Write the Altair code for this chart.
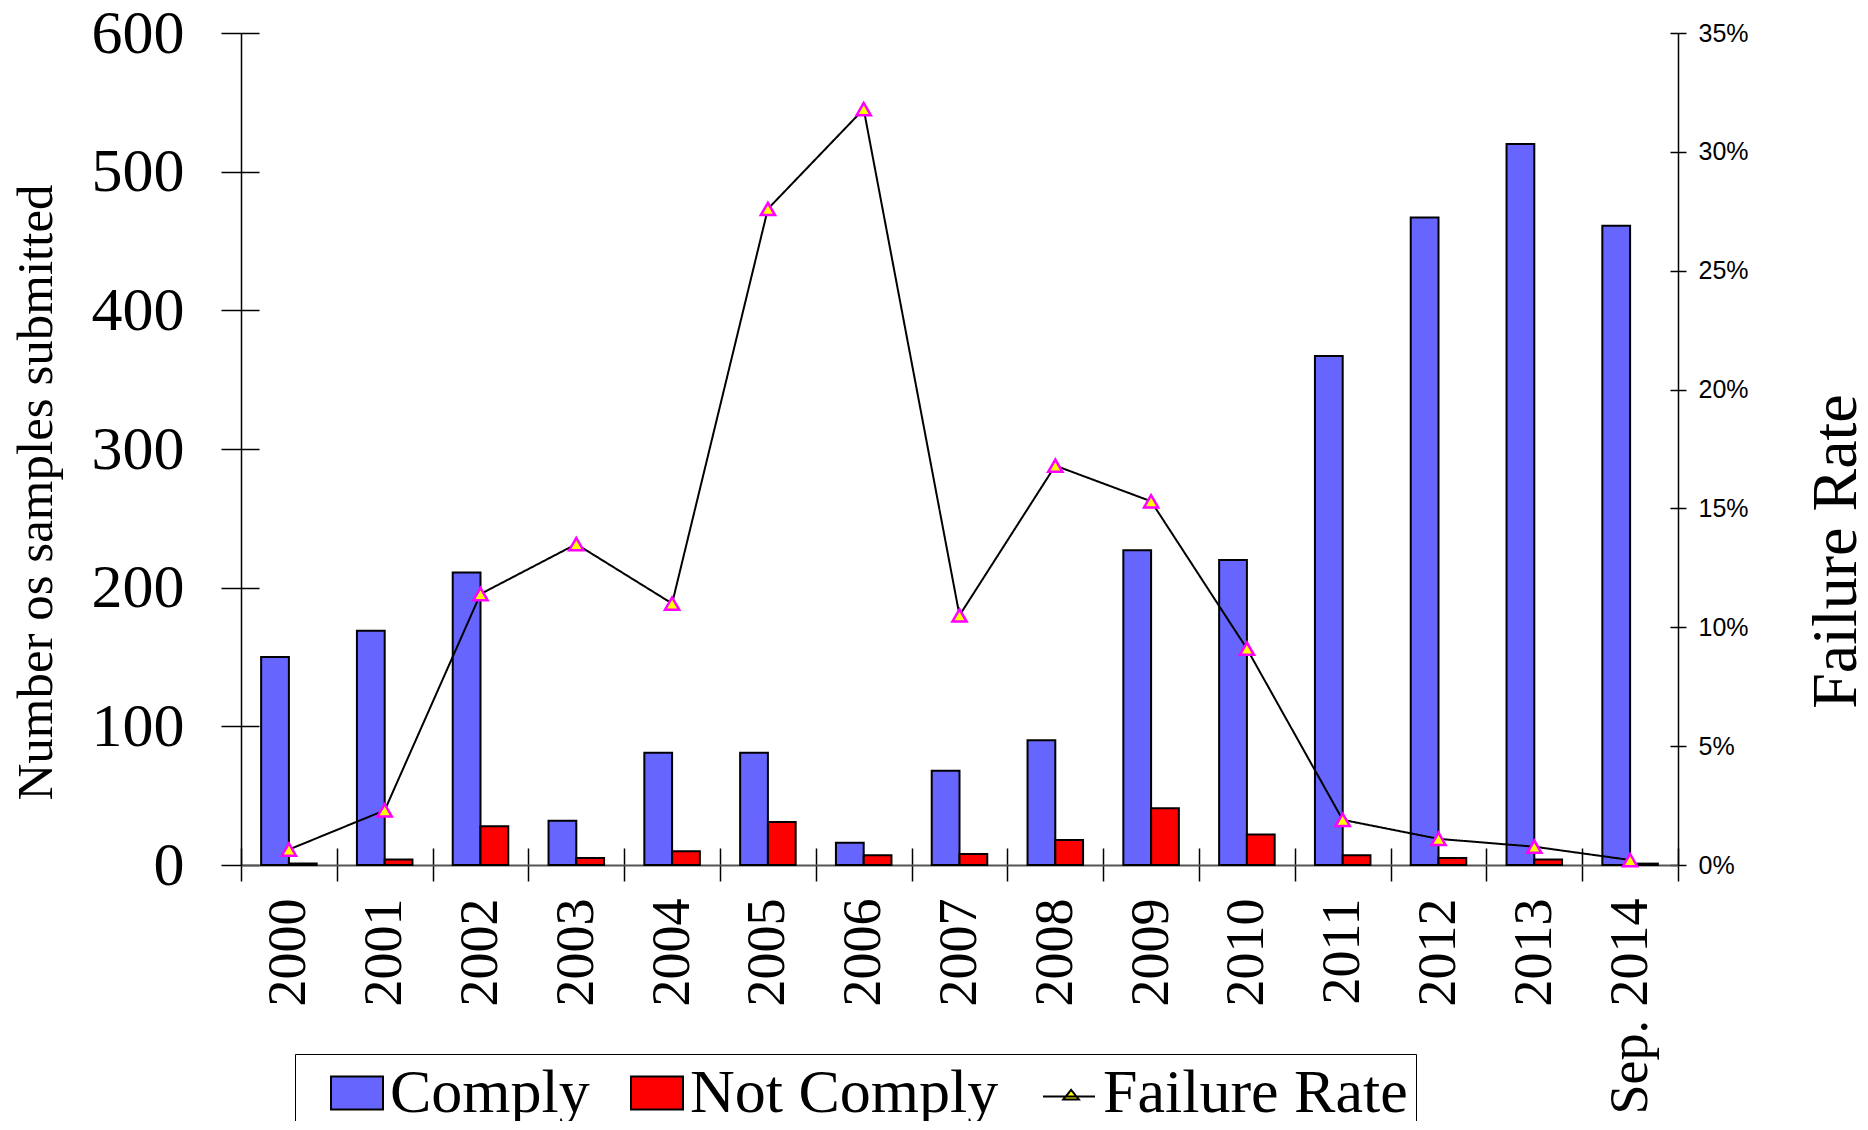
import altair as alt
import pandas as pd

years = ["2000", "2001", "2002", "2003", "2004", "2005", "2006", "2007",
         "2008", "2009", "2010", "2011", "2012", "2013", "Sep. 2014"]
comply = [150, 169, 211, 32, 81, 81, 16, 68, 90, 227, 220, 367, 467, 520, 461]
not_comply = [1, 4, 28, 5, 10, 31, 7, 8, 18, 41, 22, 7, 5, 4, 1]
failure_rate_pct = [0.65, 2.3, 11.4, 13.5, 11.0, 27.6, 31.8, 10.5, 16.8,
                    15.3, 9.1, 1.9, 1.1, 0.77, 0.21]

bar_series = ["Comply", "Not Comply"]
bar_colors = ["#6666FF", "#FF0000"]
line_series = ["Failure Rate"]
left_ticks = [0, 100, 200, 300, 400, 500, 600]
right_ticks = [0, 0.05, 0.1, 0.15, 0.2, 0.25, 0.3, 0.35]

bars_df = pd.DataFrame({
    "year": years * 2,
    "series": ["Comply"] * len(years) + ["Not Comply"] * len(years),
    "count": comply + not_comply,
})
rate_df = pd.DataFrame({
    "year": years,
    "rate": [v / 100 for v in failure_rate_pct],
    "series": line_series * len(years),
})

SERIF = "Liberation Serif"
SANS = "Liberation Sans"

x_axis = alt.Axis(
    title=None, labelAngle=270, labelFont=SERIF, labelFontSize=54,
    labelColor="black", labelPadding=17, labelOverlap=False, labelLimit=600,
    tickBand="extent", tickSize=16, tickColor="black", tickWidth=1.5,
    domainColor="#555555", domainWidth=2,
    grid=True, gridColor="black", gridWidth=1.5, gridDash=[0, 815, 17, 0],
)
x_enc = alt.X("year:N", sort=years,
              scale=alt.Scale(paddingInner=0, paddingOuter=0), axis=x_axis)

left_axis = alt.Axis(
    values=left_ticks, labelFont=SERIF, labelFontSize=62, labelColor="black",
    labelPadding=37, tickSize=20, tickColor="black", tickWidth=1.5,
    domainColor="black", domainWidth=1.5,
    grid=True, gridColor="black", gridWidth=1.5, gridDash=[18, 3000],
    title="Number os samples submitted", titleFont=SERIF, titleFontSize=51,
    titleFontWeight="normal", titleColor="black", titleAngle=270,
    titleX=-190, titleY=459, titleAlign="center", titleBaseline="alphabetic",
)

right_axis = alt.Axis(
    orient="right", values=right_ticks, format=".0%",
    labelFont=SANS, labelFontSize=25, labelColor="black", labelPadding=12,
    tickSize=8, tickColor="black", tickWidth=1.5,
    domainColor="black", domainWidth=1.5,
    grid=True, gridColor="black", gridWidth=1.5, gridDash=[8, 3000],
    title="Failure Rate", titleFont=SERIF, titleFontSize=64,
    titleFontWeight="normal", titleColor="black", titleAngle=270,
    titleX=177, titleY=518, titleAlign="center", titleBaseline="alphabetic",
)

bar_legend = alt.Legend(
    title=None, orient="none", legendX=54, legendY=1021, direction="horizontal",
    labelFont=SERIF, labelFontSize=62, labelColor="black", labelLimit=3000,
    symbolType="M-1,-0.63H1V0.63H-1Z",
    symbolSize=2704, symbolOffset=23, labelOffset=2, columnPadding=13,
    symbolStrokeColor="black", symbolStrokeWidth=2, symbolOpacity=1,
    padding=8, zindex=1,
)

# The boxed legend: its entry sits at the right, its box spans the whole row.
line_legend = alt.Legend(
    title=None, orient="none", legendX=54, legendY=1021, direction="horizontal",
    labelFont=SERIF, labelFontSize=62, labelColor="black", labelLimit=3000,
    symbolType="M-1,0.13H1M-0.22,0.25L0.08,-0.12L0.38,0.25Z",
    symbolSize=2704, symbolOffset=735, labelOffset=3, padding=8,
    strokeColor="black",
    symbolStrokeColor="black", symbolFillColor="#FFFF00", symbolStrokeWidth=2,
    symbolOpacity=1, zindex=0,
)

bars = alt.Chart(bars_df).mark_bar(stroke="black", strokeWidth=2).encode(
    x=x_enc,
    xOffset=alt.XOffset("series:N", sort=bar_series,
                        scale=alt.Scale(paddingInner=0, paddingOuter=0.725)),
    y=alt.Y("count:Q", scale=alt.Scale(domain=[0, 600], nice=False), axis=left_axis),
    color=alt.Color("series:N",
                    scale=alt.Scale(domain=bar_series, range=bar_colors),
                    legend=bar_legend),
)

rate_y = alt.Y("rate:Q", scale=alt.Scale(domain=[0, 0.35], nice=False), axis=right_axis)

line = alt.Chart(rate_df).mark_line(color="black", strokeWidth=2).encode(
    x=x_enc, y=rate_y,
    strokeDash=alt.StrokeDash("series:N",
                              scale=alt.Scale(domain=line_series, range=[[1, 0]]),
                              legend=line_legend),
)
points = alt.Chart(rate_df).mark_point(
    shape="triangle-up", filled=True, fill="#FFFF00", stroke="#FF00FF",
    strokeWidth=2.5, size=200, opacity=1).encode(x=x_enc, y=rate_y)

rate_layer = alt.layer(line, points)

chart = alt.layer(bars, rate_layer).resolve_scale(y="independent").properties(
    width=1437, height=832,
    autosize=alt.AutoSizeParams(type="none"),
    padding={"left": 233, "top": 25, "right": 182, "bottom": 256},
    background="white",
).configure_view(stroke=None)

chart.save("out.html", embed_options={"renderer": "svg", "actions": False})
